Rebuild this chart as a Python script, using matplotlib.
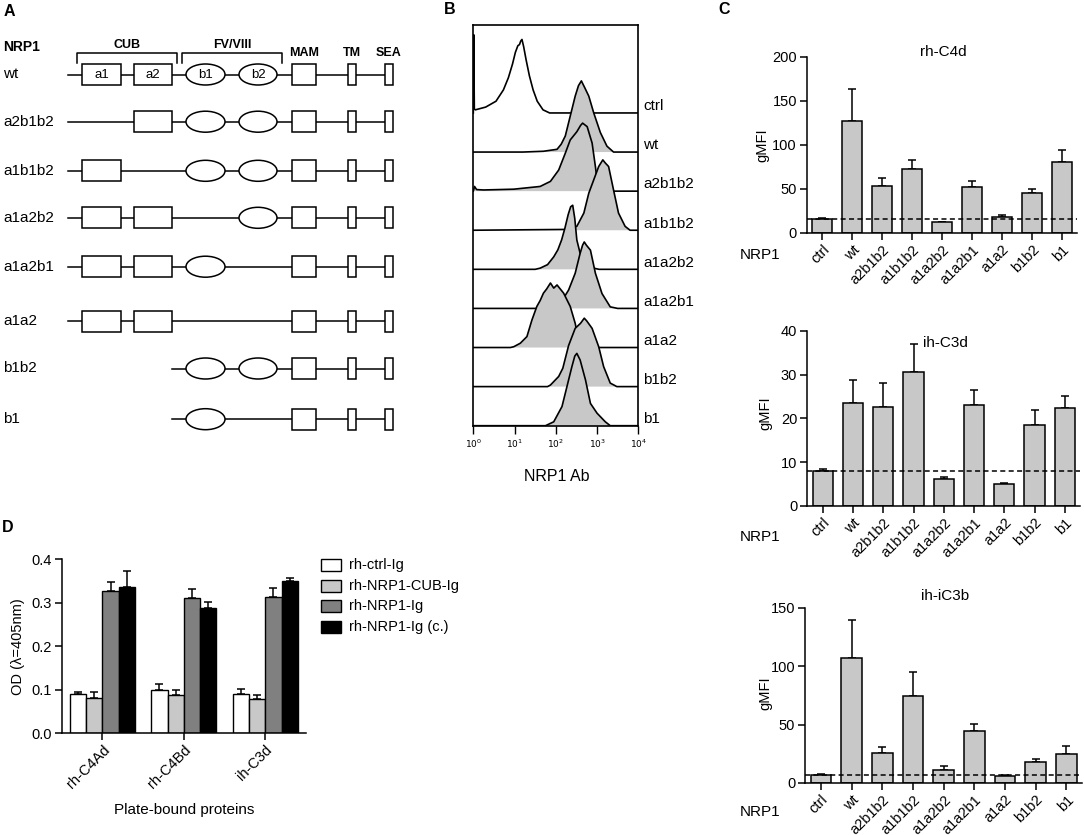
import matplotlib
matplotlib.use('Agg')
import matplotlib.pyplot as plt
from matplotlib.patches import Rectangle, Ellipse
import numpy as np

plt.rcParams['font.family'] = ['Liberation Sans', 'DejaVu Sans']
plt.rcParams['axes.linewidth'] = 1.0

# ---------------- data ----------------
# Panel A: NRP1 constructs and their extracellular domains
constructs = ['wt', 'a2b1b2', 'a1b1b2', 'a1a2b2', 'a1a2b1', 'a1a2', 'b1b2', 'b1']
construct_domains = [['a1', 'a2', 'b1', 'b2'], ['a2', 'b1', 'b2'], ['a1', 'b1', 'b2'],
                     ['a1', 'a2', 'b2'], ['a1', 'a2', 'b1'], ['a1', 'a2'], ['b1', 'b2'], ['b1']]
common_domains = ['MAM', 'TM', 'SEA']
domain_groups = ['CUB', 'FV/VIII']

# Panel B: histogram profiles (x = log10 fluorescence, y = relative counts)
hist_labels = ['ctrl', 'wt', 'a2b1b2', 'a1b1b2', 'a1a2b2', 'a1a2b1', 'a1a2', 'b1b2', 'b1']
hist_ctrl_x = [0.00, 0.01, 0.025, 0.05, 0.30, 0.55, 0.73, 0.85, 0.95, 1.02, 1.08, 1.12, 1.15, 1.18, 1.22, 1.28, 1.36, 1.45, 1.55, 1.69, 1.85, 4.00]
hist_ctrl_y = [0.00, 2.00, 0.10, 0.08, 0.15, 0.30, 0.59, 0.90, 1.25, 1.55, 1.72, 1.75, 1.84, 1.88, 1.70, 1.36, 0.95, 0.59, 0.30, 0.08, 0.00, 0.00]
hist_wt_x = [0, 1.2, 1.7, 2.03, 2.13, 2.23, 2.35, 2.47, 2.55, 2.62, 2.7, 2.8, 2.92, 3.08, 3.24, 3.4, 4.0]
hist_wt_y = [0, 0, 0.02, 0.07, 0.2, 0.41, 0.92, 1.43, 1.7, 1.82, 1.65, 1.43, 1.0, 0.5, 0.15, 0, 0]
hist_a2b1b2_x = [0, 0.03, 0.08, 0.25, 0.98, 1.62, 1.87, 2.07, 2.23, 2.35, 2.51, 2.6, 2.65, 2.76, 2.88, 2.96, 3.01, 3.04, 4.0]
hist_a2b1b2_y = [0, 0.12, 0.04, 0.03, 0.05, 0.12, 0.25, 0.54, 0.97, 1.31, 1.52, 1.68, 1.74, 1.65, 1.23, 0.63, 0.2, 0, 0]
hist_a1b1b2_x = [0, 2.2, 2.51, 2.68, 2.8, 2.92, 3.04, 3.14, 3.2, 3.28, 3.4, 3.52, 3.68, 3.8, 4.0]
hist_a1b1b2_y = [0, 0.02, 0.1, 0.44, 0.95, 1.29, 1.63, 1.8, 1.72, 1.63, 1.03, 0.44, 0.1, 0, 0]
hist_a1a2b2_x = [0, 1.5, 1.62, 1.8, 1.95, 2.05, 2.14, 2.22, 2.3, 2.36, 2.41, 2.46, 2.51, 2.59, 2.72, 2.92, 3.05, 4.0]
hist_a1a2b2_y = [0, 0, 0.03, 0.12, 0.32, 0.5, 0.75, 1.05, 1.4, 1.6, 1.64, 1.3, 0.75, 0.41, 0.15, 0.03, 0, 0]
hist_a1a2b1_x = [0, 1.79, 2.11, 2.31, 2.47, 2.59, 2.65, 2.69, 2.74, 2.84, 2.96, 3.12, 3.32, 3.5, 4.0]
hist_a1a2b1_y = [0, 0, 0.13, 0.47, 0.9, 1.41, 1.62, 1.70, 1.62, 1.49, 0.9, 0.38, 0.04, 0, 0]
hist_a1a2_x = [0, 0.9, 0.98, 1.14, 1.3, 1.42, 1.54, 1.62, 1.7, 1.78, 1.87, 1.95, 2.03, 2.19, 2.35, 2.47, 2.55, 2.63, 4.0]
hist_a1a2_y = [0, 0, 0.02, 0.11, 0.28, 0.7, 1.05, 1.2, 1.39, 1.5, 1.65, 1.52, 1.6, 1.39, 1.05, 0.62, 0.2, 0, 0]
hist_b1b2_x = [0, 1.8, 1.87, 2.07, 2.17, 2.31, 2.47, 2.6, 2.69, 2.75, 2.88, 3.04, 3.16, 3.32, 3.48, 4.0]
hist_b1b2_y = [0, 0, 0.04, 0.26, 0.47, 1.05, 1.49, 1.62, 1.75, 1.68, 1.49, 1.02, 0.51, 0.09, 0, 0]
hist_b1_x = [0, 1.75, 1.95, 2.15, 2.27, 2.39, 2.46, 2.51, 2.59, 2.72, 2.84, 3.0, 3.2, 3.32, 4.0]
hist_b1_y = [0, 0, 0.1, 0.49, 1.0, 1.51, 1.78, 1.85, 1.68, 1.17, 0.57, 0.32, 0.1, 0, 0]

# Panel C: gMFI binding (mean, SEM)
c_labels = ['ctrl', 'wt', 'a2b1b2', 'a1b1b2', 'a1a2b2', 'a1a2b1', 'a1a2', 'b1b2', 'b1']
c4d_mean = [16.0, 127.3, 52.7, 72.0, 12.1, 51.5, 18.2, 45.5, 80.3]
c4d_sem = [0.5, 36.3, 10.0, 10.6, 0.4, 7.2, 1.5, 4.5, 13.6]
c3d_mean = [7.94, 23.6, 22.5, 30.6, 6.1, 23.0, 4.96, 18.5, 22.4]
c3d_sem = [0.45, 5.1, 5.7, 6.4, 0.4, 3.4, 0.25, 3.3, 2.7]
ic3b_mean = [6.8, 107.2, 25.7, 74.4, 11.4, 44.2, 5.7, 18.0, 24.8]
ic3b_sem = [0.6, 32.2, 5.4, 20.3, 3.1, 6.6, 0.9, 2.8, 7.1]

# Panel D: ELISA OD
d_groups = ['rh-C4Ad', 'rh-C4Bd', 'ih-C3d']
d_series = ['rh-ctrl-Ig', 'rh-NRP1-CUB-Ig', 'rh-NRP1-Ig', 'rh-NRP1-Ig (c.)']
d_ctrl = [0.090, 0.100, 0.090]
d_ctrl_err = [0.005, 0.013, 0.012]
d_cub = [0.081, 0.088, 0.080]
d_cub_err = [0.015, 0.011, 0.008]
d_nrp1 = [0.327, 0.312, 0.313]
d_nrp1_err = [0.021, 0.020, 0.020]
d_nrp1c = [0.337, 0.287, 0.349]
d_nrp1c_err = [0.035, 0.015, 0.007]

# ---------------- figure ----------------
W, H = 1084, 835
fig = plt.figure(figsize=(W / 100, H / 100), dpi=100)


def rect(x0, y0, x1, y1):
    return [x0 / W, 1 - y1 / H, (x1 - x0) / W, (y1 - y0) / H]


ov = fig.add_axes([0, 0, 1, 1])
ov.set_xlim(0, W)
ov.set_ylim(H, 0)
ov.axis('off')

GRAY = '#c8c8c8'

# panel letters
for letter, (lx, ly) in zip('ABCD', [(9, 11), (450, 10), (724, 10), (8, 528)]):
    ov.text(lx, ly, letter, fontsize=11.5, fontweight='bold', ha='center', va='center')

# ---------------- Panel A ----------------
row_y = [74.5, 121.7, 170.8, 217.8, 266.7, 321.2, 368.5, 419.2]
dom_x = {'a1': (82, 121), 'a2': (134, 172), 'b1': (186, 225), 'b2': (239, 277),
         'MAM': (292.3, 316), 'TM': (348.3, 356), 'SEA': (385, 393)}
box_h = 21
lwA = 1.1
ov.text(3, 46.7, 'NRP1', fontsize=10, fontweight='bold', ha='left', va='center')
brackets = {'CUB': (76.7, 177), 'FV/VIII': (181.7, 282)}
for g in domain_groups:
    x0, x1 = brackets[g]
    ov.plot([x0, x0, x1, x1], [63.3, 53.3, 53.3, 63.3], color='black', lw=lwA)
    ov.text((x0 + x1) / 2, 45, g, fontsize=9, fontweight='bold', ha='center', va='center')
for d in common_domains:
    x0, x1 = dom_x[d]
    ov.text((x0 + x1) / 2, 53, d, fontsize=9, fontweight='bold', ha='center', va='center')

for i, (name, doms) in enumerate(zip(constructs, construct_domains)):
    y = row_y[i]
    ov.text(3, y, name, fontsize=11, ha='left', va='center')
    start = 68 if ('a1' in doms or 'a2' in doms) else 172
    ov.plot([start, dom_x['SEA'][0]], [y, y], color='black', lw=lwA, zorder=2)
    for d in doms + common_domains:
        x0, x1 = dom_x[d]
        if d in ('b1', 'b2'):
            p = Ellipse(((x0 + x1) / 2, y), x1 - x0, box_h, facecolor='white',
                        edgecolor='black', lw=lwA, zorder=3)
        else:
            p = Rectangle((x0, y - box_h / 2), x1 - x0, box_h, facecolor='white',
                          edgecolor='black', lw=lwA, zorder=3)
        ov.add_patch(p)
        if i == 0 and d in ('a1', 'a2', 'b1', 'b2'):
            ov.text((x0 + x1) / 2, y + 0.5, d, fontsize=9.5, ha='center', va='center', zorder=4)

# ---------------- Panel B ----------------
axB = fig.add_axes(rect(473.3, 25, 638.3, 425.7))
axB.set_facecolor('none')
hist_x = [hist_ctrl_x, hist_wt_x, hist_a2b1b2_x, hist_a1b1b2_x, hist_a1a2b2_x,
          hist_a1a2b1_x, hist_a1a2_x, hist_b1b2_x, hist_b1_x]
hist_y = [hist_ctrl_y, hist_wt_y, hist_a2b1b2_y, hist_a1b1b2_y, hist_a1a2b2_y,
          hist_a1a2b1_y, hist_a1a2_y, hist_b1b2_y, hist_b1_y]
n_lanes = len(hist_labels)
for i in range(n_lanes):
    base = (n_lanes - 1) - i
    xs = 10 ** np.array(hist_x[i])
    ys = base + np.array(hist_y[i])
    if i > 0:
        axB.fill_between(xs, base, ys, facecolor=GRAY, edgecolor='none', zorder=2 + 2 * i)
    axB.plot(xs, ys, color='black', lw=1.2, zorder=3 + 2 * i, solid_joinstyle='round')
    axB.text(1.03, base + 0.17, hist_labels[i], transform=axB.get_yaxis_transform(),
             fontsize=11, ha='left', va='center')
axB.set_xscale('log')
axB.set_xlim(1, 1e4)
axB.set_ylim(0, 10.25)
axB.set_yticks([])
axB.set_xticks([1, 10, 100, 1000, 10000])
axB.set_xticklabels([r'$10^{0}$', r'$10^{1}$', r'$10^{2}$', r'$10^{3}$', r'$10^{4}$'], fontsize=6.5)
axB.tick_params(axis='x', which='major', length=5.5, width=1.0, pad=3)
axB.tick_params(axis='x', which='minor', length=4, width=0.8)
for s in axB.spines.values():
    s.set_linewidth(1.2)
    s.set_zorder(40)
ov.text(556.7, 476.7, 'NRP1 Ab', fontsize=11.5, ha='center', va='center')


# ---------------- Panel C ----------------
def bar_panel(px, means, sems, ymax, yticks, title, title_xy, ylab_xy, nrp1_xy):
    ax = fig.add_axes(rect(*px))
    ax.set_facecolor('none')
    x = np.arange(len(c_labels))
    ax.bar(x, means, width=0.67, color=GRAY, edgecolor='black', linewidth=1.1, zorder=2)
    ax.errorbar(x, means, yerr=[np.zeros(len(x)), sems], fmt='none', ecolor='black',
                elinewidth=1.1, capsize=3, capthick=1.1, zorder=1)
    ax.axhline(means[0], color='black', lw=1.1, ls=(0, (3.3, 2.2)), zorder=3)
    ax.set_xlim(-0.52, 8.5)
    ax.set_ylim(0, ymax)
    ax.spines['top'].set_visible(False)
    ax.spines['right'].set_visible(False)
    for s in ('left', 'bottom'):
        ax.spines[s].set_linewidth(1.1)
    ax.set_xticks(x)
    ax.set_xticklabels(c_labels, rotation=45, ha='right', rotation_mode='anchor', fontsize=10.5)
    ax.set_yticks(yticks)
    ax.set_yticklabels([str(t) for t in yticks], fontsize=10.5)
    ax.tick_params(length=5, width=1.1, pad=2)
    ov.text(title_xy[0], title_xy[1], title, fontsize=11, ha='center', va='center')
    ov.text(ylab_xy[0], ylab_xy[1], 'gMFI', fontsize=10.5, ha='center', va='center', rotation=90)
    ov.text(nrp1_xy[0], nrp1_xy[1], 'NRP1', fontsize=11, ha='left', va='center')
    return ax


bar_panel((806.7, 56.7, 1076.7, 232.7), c4d_mean, c4d_sem, 200, [0, 50, 100, 150, 200],
          'rh-C4d', (943, 52), (762, 145), (740, 255))
bar_panel((807, 331, 1080, 505.7), c3d_mean, c3d_sem, 40, [0, 10, 20, 30, 40],
          'ih-C3d', (945, 343), (765, 413), (740, 536.7))
bar_panel((805, 607.7, 1081.7, 783), ic3b_mean, ic3b_sem, 150, [0, 50, 100, 150],
          'ih-iC3b', (945, 596), (765, 693), (740, 812.3))

# ---------------- Panel D ----------------
axD = fig.add_axes(rect(61.7, 559.3, 306, 733.3))
axD.set_facecolor('none')
xg = np.arange(len(d_groups))
d_vals = [d_ctrl, d_cub, d_nrp1, d_nrp1c]
d_errs = [d_ctrl_err, d_cub_err, d_nrp1_err, d_nrp1c_err]
d_colors = ['white', GRAY, '#808080', 'black']
d_offsets = [-0.3, -0.1, 0.1, 0.3]
for vals, errs, col, off in zip(d_vals, d_errs, d_colors, d_offsets):
    axD.bar(xg + off, vals, width=0.2, color=col, edgecolor='black', linewidth=1.0, zorder=2)
    axD.errorbar(xg + off, vals, yerr=[np.zeros(len(xg)), errs], fmt='none', ecolor='black',
                 elinewidth=1.1, capsize=2.6, capthick=1.1, zorder=1)
axD.set_xlim(-0.5, 2.5)
axD.set_ylim(0, 0.4)
axD.spines['top'].set_visible(False)
axD.spines['right'].set_visible(False)
for s in ('left', 'bottom'):
    axD.spines[s].set_linewidth(1.1)
axD.set_xticks(xg)
axD.set_xticklabels(d_groups, rotation=45, ha='right', rotation_mode='anchor', fontsize=10.5)
axD.set_yticks([0.0, 0.1, 0.2, 0.3, 0.4])
axD.set_yticklabels(['0.0', '0.1', '0.2', '0.3', '0.4'], fontsize=10.5)
axD.tick_params(length=5, width=1.1, pad=2)
ov.text(18, 646.7, 'OD (λ=405nm)', fontsize=10.5, ha='center', va='center', rotation=90)
ov.text(184, 810, 'Plate-bound proteins', fontsize=11, ha='center', va='center')

leg_y = [565, 585.7, 606, 626.7]
for name, col, ly in zip(d_series, d_colors, leg_y):
    ov.add_patch(Rectangle((320.7, ly - 6), 20.3, 12, facecolor=col, edgecolor='black', lw=1.0))
    ov.text(349.3, ly, name, fontsize=10.5, ha='left', va='center')

fig.savefig('out.png', dpi=100)
